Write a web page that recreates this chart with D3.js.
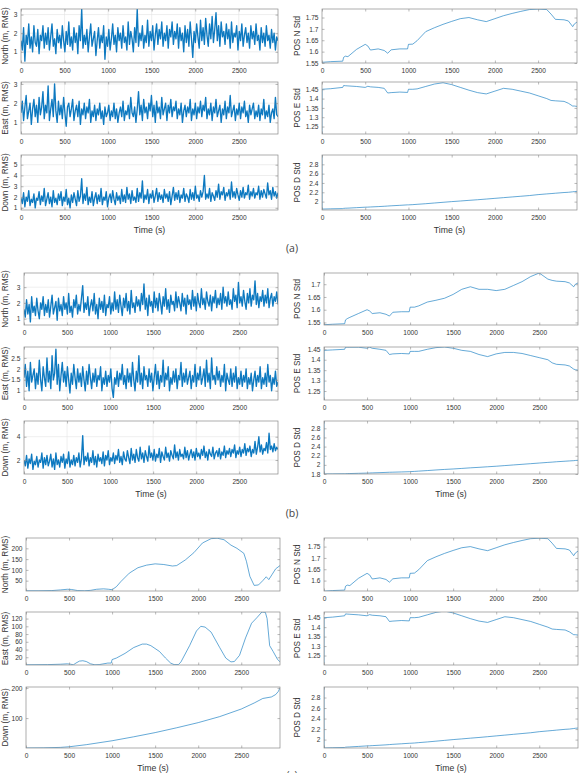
<!DOCTYPE html>
<html><head><meta charset="utf-8">
<script src="https://cdn.jsdelivr.net/npm/d3@7"></script>
<style>body{margin:0;background:#fff} svg{display:block} text{font-family:"Liberation Sans",Arial,sans-serif;fill:#333}</style>
</head><body><svg id="c" width="584" height="773"></svg>
<script>
// ---------- DATA ----------
const xTicks = [0, 500, 1000, 1500, 2000, 2500];
const tEnd = 2950;

// noisy RMS error series (one value per ~14.8 s)
const northA = [1.6,1.1,2.3,0.5,1.9,1.4,2.5,1.2,1.8,1.0, 2.4,1.5,1.3,2.2,0.9,1.9,1.6,2.4,1.2,2.0, 1.4,2.3,1.1,1.8,2.5,1.3,1.7,0.9,2.2,1.5, 1.9,1.2,2.4,1.6,1.0,2.1,1.4,2.6,1.3,1.8, 1.1,2.3,1.5,2.0,0.9,2.4,1.6,3.3,1.2,1.9, 1.4,2.2,1.0,1.8,2.5,1.3,1.7,2.1,0.8,1.6, 2.3,1.2,1.9,1.5,2.4,0.6,1.8,1.3,2.2,1.1, 1.7,2.5,1.4,1.9,1.0,2.3,1.6,2.0,1.2,2.4, 1.5,1.8,1.1,2.6,1.4,2.1,1.7,1.0,2.3,1.5, 3.3,1.3,2.0,1.6,2.4,1.2,1.9,1.5,2.7,1.3, 2.1,1.6,2.4,1.1,1.9,2.5,1.4,2.2,1.7,2.6, 1.3,2.0,1.6,2.4,1.2,2.2,1.8,2.6,1.4,2.1, 1.7,2.5,1.2,2.3,1.6,2.0,1.0,2.4,1.5,2.2, 1.3,2.6,1.7,0.7,2.1,1.5,2.5,1.8,1.2,2.7, 1.6,2.3,1.4,2.8,1.9,1.3,2.5,1.7,2.9,1.5, 2.2,3.1,1.6,2.4,1.3,2.6,1.8,2.1,1.4,2.5, 1.7,2.2,1.2,2.6,1.5,2.0,1.8,2.4,1.1,2.1, 1.6,2.5,1.3,1.9,2.3,1.5,2.0,1.2,2.4,1.7, 2.1,1.4,2.5,1.6,1.9,1.1,2.3,1.5,2.0,1.3, 2.4,1.6,1.9,1.2,2.2,1.5,2.0,1.1,1.8,1.6];
const eastA = [1.5,2.1,1.1,1.8,2.4,1.2,1.6,2.0,0.9,1.7, 2.2,1.3,1.9,1.0,2.3,1.4,1.8,2.6,1.2,1.9, 1.5,2.9,1.1,1.7,2.2,1.3,3.0,1.6,1.0,2.1, 1.4,1.9,1.2,2.3,1.5,0.8,1.8,2.0,1.3,1.7, 2.2,1.1,1.6,1.9,1.3,2.1,0.9,1.7,1.4,2.0, 1.2,1.8,1.5,2.2,1.0,1.6,1.3,1.9,1.1,1.7, 1.4,2.0,1.2,1.6,0.9,1.8,1.3,1.5,1.9,1.1, 1.6,1.3,2.0,1.2,1.7,1.0,1.5,1.8,1.3,2.1, 1.1,1.6,1.4,1.9,1.2,2.3,1.5,1.3,1.8,1.0, 1.7,2.6,1.4,1.9,1.1,2.2,1.5,1.8,1.2,2.0, 1.6,2.4,1.3,1.9,1.0,2.1,1.5,1.8,1.2,2.3, 1.4,1.7,2.0,1.1,1.9,1.5,2.2,1.3,1.8,1.6, 2.1,1.2,1.7,1.4,2.0,1.0,1.6,1.9,1.3,1.8, 1.5,2.2,1.1,1.7,1.4,2.0,1.2,1.8,1.5,2.1, 1.3,1.9,1.6,2.3,1.2,1.7,1.4,2.0,1.1,1.8, 1.5,2.2,1.3,1.6,1.9,1.0,1.7,1.4,2.1,1.2, 1.8,1.5,2.4,1.3,1.6,1.9,1.1,1.7,1.4,2.0, 1.2,1.8,1.5,2.1,1.3,1.6,1.0,1.9,1.4,1.7, 2.0,1.2,1.6,1.3,1.9,1.1,1.7,1.4,2.2,1.2, 1.6,1.3,1.9,1.0,1.5,1.7,1.2,2.3,1.4,1.3];
const downA = [1.9,1.4,2.4,1.1,2.0,1.6,2.6,1.2,1.8,1.5, 2.3,1.0,1.9,1.7,2.5,1.3,2.1,1.6,2.8,1.2, 1.8,2.4,1.4,2.0,1.1,2.6,1.5,1.9,1.3,2.3, 1.7,2.5,1.2,2.0,1.6,2.7,1.3,1.9,1.0,2.2, 1.5,2.4,1.8,1.2,2.6,1.6,2.1,3.7,1.4,2.3, 1.7,2.9,1.3,2.0,1.5,2.5,1.2,1.9,2.4,1.4, 2.2,1.6,2.8,1.3,2.0,1.7,2.5,1.1,1.9,2.3, 1.5,2.6,1.8,1.3,2.4,1.7,2.1,1.4,2.7,1.6, 2.2,1.5,2.9,1.8,2.3,1.4,2.6,1.7,2.0,1.5, 2.8,1.6,2.4,1.9,3.5,1.5,2.2,1.8,2.7,1.4, 2.3,1.9,2.6,1.5,2.1,2.8,1.6,2.4,1.8,2.2, 1.5,2.7,1.9,2.3,1.6,2.5,1.3,2.1,2.9,1.7, 2.4,1.8,2.6,1.5,2.2,1.9,2.8,1.6,2.3,2.0, 1.5,2.7,1.8,2.4,1.7,3.0,1.9,2.2,1.6,2.6, 2.0,2.5,4.0,1.8,2.3,1.9,2.8,1.6,2.4,2.1, 1.7,2.6,2.0,3.2,1.8,2.5,2.2,2.9,1.7,2.4, 2.1,2.7,1.8,3.4,2.0,2.5,1.9,2.8,2.2,1.7, 2.6,2.0,2.9,1.9,2.4,2.2,3.1,1.8,2.5,2.1, 2.8,1.9,2.4,2.2,3.0,1.8,2.6,2.0,2.7,2.3, 1.9,3.3,2.2,2.6,1.8,2.9,2.1,2.5,1.9,2.4];
const northB = [1.6,1.1,2.2,1.3,1.9,0.8,2.4,1.4,1.8,1.2, 2.3,1.5,1.0,2.0,1.6,2.4,1.2,1.9,1.4,2.2, 1.1,1.8,2.5,1.3,1.7,2.1,0.9,2.3,1.5,1.9, 1.2,2.4,1.6,2.0,1.3,2.6,1.4,1.8,1.1,2.2, 1.7,2.5,1.3,1.9,1.5,2.3,3.1,1.4,2.0,1.6, 2.4,1.2,1.8,2.2,1.5,2.6,1.3,1.9,1.0,2.3, 1.6,2.1,1.4,2.5,1.2,1.9,1.7,2.4,1.3,2.0, 1.5,2.7,1.6,2.2,1.4,2.5,1.8,1.2,2.3,1.7, 2.6,1.5,2.1,1.3,2.8,1.7,2.0,1.4,2.4,1.8, 2.2,1.5,2.6,1.9,3.2,1.6,2.3,1.2,2.5,1.8, 2.1,1.4,2.7,1.7,2.3,1.5,2.6,2.0,1.3,2.4, 1.8,2.9,1.6,2.2,1.4,2.5,1.9,2.1,1.5,2.7, 1.7,2.4,2.0,1.5,2.6,1.8,2.3,1.3,2.5,1.9, 2.2,1.6,2.8,1.8,2.4,1.5,2.6,2.0,1.7,2.9, 1.9,2.3,1.6,2.7,2.1,1.8,2.5,1.5,2.4,2.0, 2.8,1.7,2.3,1.9,2.6,1.6,3.0,2.0,2.4,1.8, 2.7,1.9,2.2,1.6,2.9,2.1,2.5,1.7,3.3,2.0, 2.4,1.8,2.8,2.1,1.6,2.6,2.0,2.9,1.8,2.5, 2.2,3.4,1.9,2.6,1.7,2.4,2.1,2.8,1.8,2.5, 2.0,2.9,1.7,2.3,2.6,1.8,2.4,2.1,2.7,1.9];
const eastB = [1.6,2.2,1.2,1.9,1.0,2.3,1.4,1.7,2.0,1.1, 1.8,1.3,2.4,1.5,1.0,2.1,1.6,1.2,2.5,1.4, 1.9,1.1,2.6,1.5,1.8,2.9,1.3,2.2,1.0,1.7, 2.3,1.4,1.9,1.2,2.1,1.5,0.9,1.8,1.3,2.2, 1.6,1.1,2.0,1.4,1.8,1.2,2.1,1.5,1.0,1.9, 1.3,2.2,1.6,1.1,1.8,1.4,2.0,1.2,1.7,1.5, 2.1,1.0,1.6,1.3,1.9,1.2,1.7,1.4,2.0,1.1, 0.7,1.6,1.3,1.9,1.2,1.8,1.5,2.2,1.3,1.7, 1.1,2.0,1.4,1.8,1.2,2.3,1.5,1.0,1.9,1.4, 2.6,1.3,1.8,1.1,2.1,1.5,1.7,1.2,2.0,1.4, 1.8,1.0,1.6,2.2,1.3,1.9,1.1,1.7,1.4,2.4, 1.2,1.8,1.5,2.1,1.0,1.6,1.3,1.9,1.4,2.0, 1.1,1.7,1.5,2.3,1.2,1.8,1.4,2.0,1.3,1.6, 1.9,1.1,1.7,1.4,2.2,1.2,1.8,1.5,2.1,1.3, 1.6,2.0,1.2,2.4,1.4,1.8,1.1,2.5,1.5,1.7, 1.3,2.1,1.5,1.9,1.2,1.7,1.4,2.2,1.0,1.8, 1.5,1.3,2.0,1.2,1.8,1.4,2.1,1.1,1.6,1.3, 1.9,1.2,1.7,1.4,2.0,1.1,1.6,1.3,1.8,1.0, 1.5,1.9,1.2,1.7,1.4,2.1,1.1,1.6,1.3,1.8, 1.2,2.2,1.4,1.7,1.0,1.6,1.3,1.9,1.2,1.4];
const downB = [2.0,1.5,2.4,1.3,2.1,1.7,2.5,1.2,1.9,1.6, 2.3,1.4,2.0,1.8,2.6,1.3,2.2,1.6,2.4,1.5, 1.9,2.5,1.4,2.1,1.2,2.6,1.6,2.0,1.4,2.3, 1.8,2.5,1.3,2.1,1.7,2.7,1.4,2.0,1.6,2.4, 1.5,2.2,1.8,2.6,1.4,2.1,4.1,1.6,2.3,1.9, 2.6,1.5,2.2,1.8,2.8,1.6,2.3,1.4,2.5,1.9, 2.2,1.7,2.7,1.5,2.4,2.0,2.8,1.6,2.2,1.9, 2.6,1.7,2.4,2.0,2.9,1.8,2.3,1.6,2.7,2.1, 1.9,2.8,2.2,1.7,3.0,2.0,2.5,1.8,2.9,2.2, 1.9,3.1,2.1,2.6,1.8,2.8,2.3,1.9,3.2,2.2, 2.6,2.0,2.9,1.9,2.5,2.2,3.0,1.8,2.7,2.3, 2.0,3.1,2.2,2.6,1.9,2.8,2.4,2.1,3.3,2.2, 2.7,2.0,2.9,2.3,2.5,2.1,3.1,2.2,2.8,2.0, 2.5,2.9,2.2,2.7,2.0,3.0,2.3,2.6,2.1,2.9, 2.4,3.2,2.2,2.7,2.0,2.9,2.5,2.3,3.1,2.1, 2.6,2.8,2.3,3.0,2.1,2.7,2.4,3.2,2.2,2.8, 2.5,3.0,2.3,2.9,2.6,3.3,2.2,2.8,2.5,3.1, 2.3,2.9,2.6,3.4,2.4,3.0,2.7,3.2,2.3,2.9, 2.6,3.6,2.5,3.1,4.0,2.7,3.3,2.5,3.0,2.8, 3.5,2.6,4.3,2.9,3.2,2.7,3.4,2.8,3.1,2.9];

// smooth RMS error series, case (c)
const northCT = [0,150,300,400,480,530,600,680,750,820,900,960,1000,1050,1100,1200,1300,1400,1500,1600,1700,1750,1850,1950,2050,2150,2220,2300,2380,2450,2530,2560,2600,2650,2700,2750,2790,2820,2860,2900,2950];
const northC  = [3,3,4,7,10,9,4,3,5,10,12,10,8,22,45,85,110,122,128,125,118,120,146,180,225,245,247,240,215,200,177,140,70,28,30,50,68,55,80,105,120];
const eastCT = [0,250,400,480,520,550,580,620,660,700,750,800,850,950,990,1000,1050,1150,1250,1350,1400,1450,1550,1620,1680,1720,1770,1800,1900,1980,2030,2080,2150,2250,2320,2380,2420,2480,2550,2620,2680,2740,2780,2800,2830,2870,2920,2950];
const eastC  = [0.5,1,2,3,2,0.5,5,10,11,9,3,0.5,1,5,5,14,18,30,45,54,54,50,35,18,5,1,1,8,50,88,100,98,85,45,18,8,9,25,70,108,122,137,136,120,50,35,15,8];
const downCT = [0,200,400,500,700,1000,1250,1500,1750,2000,2250,2500,2650,2750,2850,2900,2930,2950];
const downC  = [1,1.5,3,5,12,25,38,52,68,85,105,130,150,165,170,178,188,200];

// filter standard deviations
const stdT  = [0,1,100,240,250,270,300,400,500,530,560,650,720,760,800,900,990,1000,1050,1100,1200,1300,1400,1500,1600,1700,1800,1900,2000,2100,2200,2300,2400,2500,2600,2650,2700,2800,2850,2900,2920,2950];
const posN_AC = [1.551,1.553,1.556,1.558,1.575,1.58,1.578,1.61,1.632,1.625,1.607,1.612,1.605,1.593,1.608,1.612,1.612,1.632,1.633,1.648,1.688,1.705,1.72,1.733,1.745,1.75,1.74,1.732,1.745,1.758,1.768,1.777,1.785,1.787,1.785,1.765,1.742,1.74,1.735,1.71,1.722,1.73];
const posN_B  = [1.541,1.541,1.543,1.545,1.56,1.565,1.57,1.585,1.6,1.595,1.585,1.588,1.582,1.575,1.59,1.592,1.592,1.61,1.61,1.615,1.63,1.637,1.645,1.66,1.68,1.69,1.68,1.68,1.675,1.68,1.695,1.71,1.73,1.744,1.72,1.715,1.712,1.71,1.705,1.69,1.7,1.705];
const posE_AC = [1.21,1.45,1.453,1.46,1.47,1.469,1.468,1.465,1.46,1.466,1.463,1.46,1.455,1.43,1.432,1.435,1.433,1.45,1.45,1.452,1.465,1.478,1.485,1.475,1.46,1.445,1.432,1.425,1.44,1.455,1.45,1.44,1.43,1.415,1.4,1.39,1.388,1.385,1.375,1.36,1.36,1.358];
const posE_B  = [1.207,1.445,1.447,1.45,1.46,1.46,1.46,1.46,1.455,1.46,1.455,1.45,1.445,1.425,1.428,1.43,1.428,1.44,1.44,1.44,1.45,1.458,1.461,1.455,1.445,1.44,1.425,1.415,1.428,1.435,1.435,1.43,1.42,1.41,1.4,1.385,1.378,1.375,1.37,1.355,1.352,1.35];
const posD_AC = [3.0,1.84,1.845,1.85,1.855,1.858,1.86,1.87,1.88,1.882,1.885,1.893,1.9,1.905,1.91,1.92,1.93,1.93,1.935,1.942,1.955,1.97,1.985,2.0,2.013,2.027,2.04,2.055,2.07,2.085,2.1,2.115,2.13,2.15,2.165,2.172,2.18,2.195,2.2,2.21,2.215,2.22];
const posD_B  = [2.96,1.8,1.802,1.805,1.806,1.808,1.81,1.815,1.82,1.822,1.824,1.83,1.835,1.838,1.84,1.845,1.85,1.852,1.857,1.863,1.875,1.888,1.9,1.91,1.922,1.935,1.946,1.958,1.97,1.984,1.998,2.012,2.026,2.04,2.054,2.06,2.068,2.08,2.086,2.092,2.096,2.1];

// ---------- LAYOUT ----------
const svg = d3.select("#c");
const colX = {
  a:{L:[21,278], R:[322,577]},
  b:{L:[24,278], R:[324,578]},
  c:{L:[26,280], R:[324,578]}
};
const rowsY = {
  a:[[9,63],[82,134],[155,210]],
  b:[[273,325],[347,400],[421,474]],
  c:[[538,591],[612,665],[687,748]]
};
const noisyT = arr => arr.map((v,i)=>({t:i*tEnd/(arr.length-1), v}));
const pair = (T,V) => T.map((t,i)=>({t, v:V[i]}));

const panels = [
  {g:"a",col:"L",row:0,dom:[0.4,3.3],ticks:[1,2,3],lab:"North (m, RMS)",data:noisyT(northA),noisy:true,grid:true},
  {g:"a",col:"L",row:1,dom:[0.4,3.1],ticks:[1,2,3],lab:"East (m, RMS)",data:noisyT(eastA),noisy:true,grid:true},
  {g:"a",col:"L",row:2,dom:[0.8,5.9],ticks:[1,2,3,4,5],lab:"Down (m, RMS)",data:noisyT(downA),noisy:true,grid:true},
  {g:"a",col:"R",row:0,dom:[1.55,1.7875],ticks:[1.55,1.6,1.65,1.7,1.75],lab:"POS N Std",data:pair(stdT,posN_AC)},
  {g:"a",col:"R",row:1,dom:[1.21,1.489],ticks:[1.25,1.3,1.35,1.4,1.45],lab:"POS E Std",data:pair(stdT,posE_AC)},
  {g:"a",col:"R",row:2,dom:[1.82,3.0],ticks:[2,2.2,2.4,2.6,2.8],lab:"POS D Std",data:pair(stdT,posD_AC)},
  {g:"b",col:"L",row:0,dom:[0.6,3.9],ticks:[1,2,3],lab:"North (m, RMS)",data:noisyT(northB),noisy:true,grid:true},
  {g:"b",col:"L",row:1,dom:[0.58,3.0],ticks:[1,1.5,2,2.5],lab:"East (m, RMS)",data:noisyT(eastB),noisy:true,grid:true},
  {g:"b",col:"L",row:2,dom:[0.8,5.35],ticks:[2,4],lab:"Down (m, RMS)",data:noisyT(downB),noisy:true,grid:true},
  {g:"b",col:"R",row:0,dom:[1.54,1.744],ticks:[1.55,1.6,1.65,1.7],lab:"POS N Std",data:pair(stdT,posN_B)},
  {g:"b",col:"R",row:1,dom:[1.207,1.461],ticks:[1.25,1.3,1.35,1.4,1.45],lab:"POS E Std",data:pair(stdT,posE_B)},
  {g:"b",col:"R",row:2,dom:[1.8,2.96],ticks:[1.8,2,2.2,2.4,2.6,2.8],lab:"POS D Std",data:pair(stdT,posD_B)},
  {g:"c",col:"L",row:0,dom:[2,248],ticks:[50,100,150,200],lab:"North (m, RMS)",data:pair(northCT,northC)},
  {g:"c",col:"L",row:1,dom:[0,137],ticks:[20,40,60,80,100,120],lab:"East (m, RMS)",data:pair(eastCT,eastC)},
  {g:"c",col:"L",row:2,dom:[1,203],ticks:[100,200],lab:"Down (m, RMS)",data:pair(downCT,downC)},
  {g:"c",col:"R",row:0,dom:[1.554,1.788],ticks:[1.6,1.65,1.7,1.75],lab:"POS N Std",data:pair(stdT,posN_AC)},
  {g:"c",col:"R",row:1,dom:[1.20,1.48],ticks:[1.25,1.3,1.35,1.4,1.45],lab:"POS E Std",data:pair(stdT,posE_AC)},
  {g:"c",col:"R",row:2,dom:[1.84,3.0],ticks:[2,2.2,2.4,2.6,2.8],lab:"POS D Std",data:pair(stdT,posD_AC)}
];

const tickFont = 6.6, labFont = 8.2, axisCol = "#8a8a8a", lineCol = "#0072BD";

panels.forEach((p,k) => {
  const [x0,x1] = colX[p.g][p.col], [y0,y1] = rowsY[p.g][p.row];
  const x = d3.scaleLinear().domain([0,tEnd]).range([x0,x1]);
  const y = d3.scaleLinear().domain(p.dom).range([y1,y0]);
  const g = svg.append("g");
  const id = "clip"+k;
  svg.append("clipPath").attr("id",id).append("rect").attr("x",x0).attr("y",y0).attr("width",x1-x0).attr("height",y1-y0);

  if (p.grid) {
    g.append("g").selectAll("line").data(xTicks.slice(1)).join("line")
      .attr("x1",d=>x(d)).attr("x2",d=>x(d)).attr("y1",y0).attr("y2",y1)
      .attr("stroke","#e3e3e3").attr("stroke-width",0.6);
    g.append("g").selectAll("line").data(p.ticks).join("line")
      .attr("y1",d=>y(d)).attr("y2",d=>y(d)).attr("x1",x0).attr("x2",x1)
      .attr("stroke","#e3e3e3").attr("stroke-width",0.6);
  }

  const line = d3.line().x(d=>x(d.t)).y(d=>y(d.v));
  g.append("path").datum(p.data).attr("clip-path",`url(#${id})`)
    .attr("d",line).attr("fill","none").attr("stroke",lineCol)
    .attr("stroke-width",p.noisy?1.35:0.75).attr("stroke-opacity",p.noisy?0.95:0.8)
    .attr("stroke-linejoin","round");

  // box
  g.append("rect").attr("x",x0).attr("y",y0).attr("width",x1-x0).attr("height",y1-y0)
    .attr("fill","none").attr("stroke",axisCol).attr("stroke-width",0.7);

  // x axis ticks (bottom & top, inward)
  const xb = d3.axisBottom(x).tickValues(xTicks).tickSizeInner(-2.5).tickSizeOuter(0).tickFormat(d3.format("d"));
  const ax = g.append("g").attr("transform",`translate(0,${y1})`).call(xb);
  ax.select(".domain").remove();
  ax.selectAll("line").attr("stroke",axisCol).attr("stroke-width",0.6);
  ax.selectAll("text").attr("font-size",tickFont).attr("fill","#333").attr("y",5).attr("dy","0.71em").style("font-family","Liberation Sans, Arial, sans-serif");
  const xt = d3.axisTop(x).tickValues(xTicks).tickSizeInner(-2.5).tickSizeOuter(0).tickFormat("");
  const axt = g.append("g").attr("transform",`translate(0,${y0})`).call(xt);
  axt.select(".domain").remove();
  axt.selectAll("line").attr("stroke",axisCol).attr("stroke-width",0.6);

  // y axis ticks (left & right, inward)
  const yl = d3.axisLeft(y).tickValues(p.ticks).tickSizeInner(-2.5).tickSizeOuter(0).tickFormat(d=>String(d));
  const ay = g.append("g").attr("transform",`translate(${x0},0)`).call(yl);
  ay.select(".domain").remove();
  ay.selectAll("line").attr("stroke",axisCol).attr("stroke-width",0.6);
  ay.selectAll("text").attr("font-size",tickFont).attr("fill","#333").attr("x",-3.5).style("font-family","Liberation Sans, Arial, sans-serif");
  const yr = d3.axisRight(y).tickValues(p.ticks).tickSizeInner(-2.5).tickSizeOuter(0).tickFormat("");
  const ayr = g.append("g").attr("transform",`translate(${x1},0)`).call(yr);
  ayr.select(".domain").remove();
  ayr.selectAll("line").attr("stroke",axisCol).attr("stroke-width",0.6);

  // y label
  const lx = p.col==="L" ? 5.5 : 297;
  g.append("text").attr("transform",`translate(${lx},${(y0+y1)/2}) rotate(-90)`)
    .attr("text-anchor","middle").attr("dy","0.35em").attr("font-size",labFont).text(p.lab);

  if (p.row===2) {
    g.append("text").attr("x",(x0+x1)/2).attr("y",y1+23).attr("text-anchor","middle")
      .attr("font-size",labFont+0.5).text("Time (s)");
  }
});

// captions (the last one is cut by the bottom edge, as in the reference)
const captions = [{t:"(a)",y:252},{t:"(b)",y:517},{t:"(c)",y:779}];
svg.selectAll("text.cap").data(captions).join("text").attr("class","cap")
  .attr("x",292).attr("y",d=>d.y).attr("text-anchor","middle")
  .attr("font-size",10.5).style("font-family","'Open Sans', sans-serif").style("fill","#444").text(d=>d.t);
</script></body></html>
